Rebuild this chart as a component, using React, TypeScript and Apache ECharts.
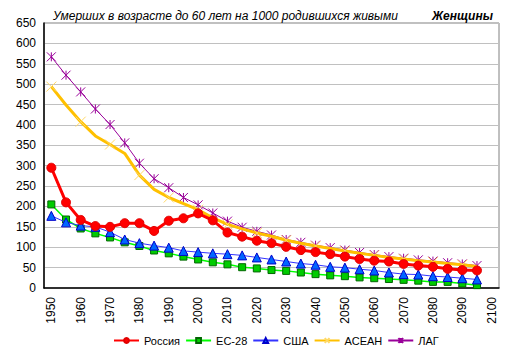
import React, { useEffect, useRef } from "react";
import * as echarts from "echarts";

const years = [
  "1950", "1955", "1960", "1965", "1970", "1975", "1980", "1985", "1990", "1995",
  "2000", "2005", "2010", "2015", "2020", "2025", "2030", "2035", "2040", "2045",
  "2050", "2055", "2060", "2065", "2070", "2075", "2080", "2085", "2090", "2095", "2100",
];

const russia = [295, 210, 167, 152, 150, 159, 159, 140, 165, 171, 183, 166, 136, 126, 116, 110, 101, 93, 88, 83, 77, 71, 67, 65, 59, 55, 52, 47, 44, 43];
const eu28 = [205, 168, 146, 134, 124, 112, 103, 92, 85, 77, 70, 63, 58, 51, 48, 44, 42, 38, 34, 31, 29, 26, 24, 22, 20, 18, 15, 15, 11, 7];
const usa = [177, 161, 153, 150, 137, 119, 110, 104, 99, 91, 88, 85, 83, 80, 75, 70, 65, 60, 57, 52, 50, 46, 43, 38, 34, 33, 29, 27, 24, 21];
const asean = [494, 449, 408, 373, 352, 330, 277, 242, 222, 207, 192, 172, 156, 145, 135, 127, 117, 110, 103, 97, 91, 85, 80, 75, 71, 67, 64, 60, 57, 53];
const lag = [567, 522, 481, 439, 401, 356, 306, 268, 246, 222, 204, 184, 164, 149, 139, 130, 119, 112, 105, 99, 93, 87, 82, 77, 73, 69, 66, 62, 59, 55];

const seriesNames = ["Россия", "ЕС-28", "США", "АСЕАН", "ЛАГ"];
const titleText = "Умерших в возрасте до 60 лет на 1000 родившихся живыми";
const subTitleText = "Женщины";

const FONT = "'Liberation Sans', Arial, sans-serif";

export default function App() {
  const ref = useRef<HTMLDivElement>(null);
  useEffect(() => {
    if (!ref.current) return;
    const chart = echarts.init(ref.current, null, { renderer: "svg" });
    chart.setOption({
      animation: false,
      backgroundColor: "#ffffff",
      textStyle: { fontFamily: FONT },
      title: [
        {
          text: titleText,
          left: 48,
          top: 5,
          textStyle: { fontFamily: FONT, fontSize: 12, fontStyle: "italic", fontWeight: "normal", color: "#000" },
        },
        {
          text: subTitleText,
          left: 427,
          top: 5,
          textStyle: { fontFamily: FONT, fontSize: 12, fontStyle: "italic", fontWeight: "bold", color: "#000" },
        },
      ],
      legend: {
        bottom: 8,
        left: 108,
        itemWidth: 25,
        itemHeight: 6,
        itemGap: 5,
        textStyle: { fontFamily: FONT, fontSize: 11, color: "#000" },
        data: seriesNames,
      },
      grid: {
        left: 44,
        right: 14,
        top: 23,
        bottom: 71,
        show: true,
        borderColor: "#808080",
        borderWidth: 1,
      },
      xAxis: {
        type: "category",
        data: years,
        boundaryGap: true,
        axisLine: { lineStyle: { color: "#000", width: 1.5 } },
        axisTick: { show: false },
        axisLabel: {
          interval: 1,
          rotate: 90,
          margin: 9,
          fontFamily: FONT,
          fontSize: 12,
          color: "#000",
        },
        splitLine: { show: false },
      },
      yAxis: {
        type: "value",
        min: 0,
        max: 650,
        interval: 50,
        axisLine: { show: true, lineStyle: { color: "#000", width: 1.5 } },
        axisTick: { show: false },
        axisLabel: { margin: 8, fontFamily: FONT, fontSize: 12, color: "#000" },
        splitLine: { lineStyle: { color: "#C0C0C0", width: 1 } },
      },
      series: [
        {
          name: "ЛАГ",
          type: "line",
          data: lag,
          z: 2,
          symbol: "path://M5,0L5,10M0,0L10,10M10,0L0,10",
          symbolSize: 9,
          lineStyle: { color: "#990099", width: 1 },
          itemStyle: { color: "#990099", borderColor: "#990099", borderWidth: 1 },
        },
        {
          name: "АСЕАН",
          type: "line",
          data: asean,
          z: 3,
          symbol: "path://M0,0L10,10M10,0L0,10",
          symbolSize: 10,
          lineStyle: { color: "#FFC000", width: 3 },
          itemStyle: { color: "#FFD966", borderColor: "#FFD966", borderWidth: 1 },
        },
        {
          name: "ЕС-28",
          type: "line",
          data: eu28,
          z: 4,
          symbol: "rect",
          symbolSize: 7,
          lineStyle: { color: "#00FF00", width: 1.5 },
          itemStyle: { color: "#00CC00", borderColor: "#006600", borderWidth: 1 },
        },
        {
          name: "США",
          type: "line",
          data: usa,
          z: 5,
          symbol: "triangle",
          symbolSize: 9,
          lineStyle: { color: "#3333FF", width: 1 },
          itemStyle: { color: "#0066FF", borderColor: "#0000CC", borderWidth: 1 },
        },
        {
          name: "Россия",
          type: "line",
          data: russia,
          z: 6,
          symbol: "circle",
          symbolSize: 9,
          lineStyle: { color: "#FF0000", width: 3 },
          itemStyle: { color: "#FF0000", borderColor: "#E00000", borderWidth: 1 },
        },
      ],
    });
    return () => chart.dispose();
  }, []);
  return (
    <div
      ref={ref}
      style={{ position: "fixed", left: 0, top: 0, width: 513, height: 359 }}
    />
  );
}
